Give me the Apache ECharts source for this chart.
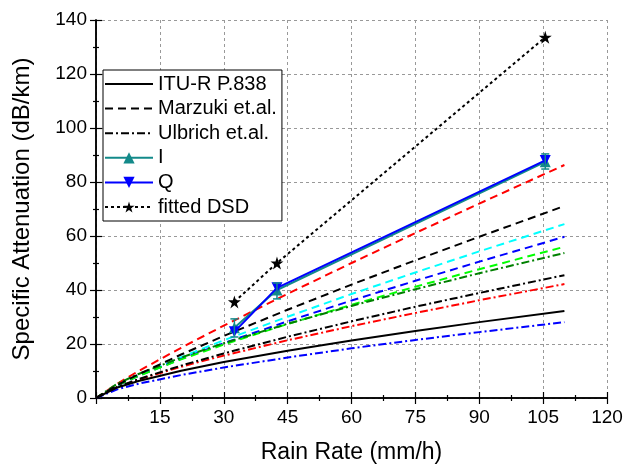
<!DOCTYPE html>
<html>
<head>
<meta charset="utf-8">
<script src="https://cdn.jsdelivr.net/npm/echarts@6/dist/echarts.min.js"></script>
<style>
  html, body { margin: 0; padding: 0; background: #fff; }
  #chart { width: 628px; height: 467px; }
</style>
</head>
<body>
<div id="chart"></div>
<script>
// rain rate samples (mm/h) for the model curves
const rain = [0, 5, 10, 20, 30, 45, 60, 75, 90, 110]

// model curves, specific attenuation (dB/km)
const ituSolid = [0, 3.9, 6.3, 10.1, 13.3, 17.5, 21.3, 24.8, 28.1, 32.2]
const marzukiBlack = [0, 4.8, 8.8, 16.1, 23.0, 32.7, 42.0, 51.0, 59.7, 71.1]
const ulbrichBlack = [0, 4.1, 7.0, 12.0, 16.5, 22.7, 28.4, 33.8, 38.9, 45.5]
const dashRed = [0, 5.3, 10.0, 18.6, 26.8, 38.6, 50.0, 61.1, 72.0, 86.3]
const dashCyan = [0, 4.7, 8.4, 15.1, 21.4, 30.1, 38.5, 46.5, 54.3, 64.4]
const dashBlue = [0, 4.6, 8.2, 14.5, 20.3, 28.4, 36.1, 43.4, 50.5, 59.7]
const dashGreen = [0, 4.7, 8.2, 14.3, 19.8, 27.4, 34.5, 41.2, 47.7, 56.0]
const dotDashGreen = [0, 5.3, 8.9, 15.0, 20.3, 27.5, 34.1, 40.3, 46.2, 53.7]
const dotDashRed = [0, 4.0, 6.8, 11.6, 15.7, 21.4, 26.6, 31.5, 36.2, 42.2]
const dotDashBlue = [0, 3.2, 5.3, 8.5, 11.3, 15.0, 18.4, 21.5, 24.4, 28.1]

// measured points
const measRain = [32.5, 42.5, 105.5]
const valI = [26, 40, 87.5]
const valQ = [24.5, 40.8, 88]
const errLow = [22.6, 36.7, 84.8]
const errHigh = [29.3, 42.6, 90.4]
const fittedDSD = [35.6, 50, 133.6]

const xTicks = [15, 30, 45, 60, 75, 90, 105, 120]

const pairs = (xs, ys) => xs.map((x, i) => [x, ys[i]])

const DASH = [8, 5]
const DASHDOT = [8, 3, 2, 3]
const DOT = [3, 3]
const STAR = 'path://M0,-100L22,-31L95,-31L36,12L59,81L0,38L-59,81L-36,12L-95,-31L-22,-31Z'
const TEAL = '#138a8a'

const curve = (name, data, color, type, width) => ({
  name,
  type: 'line',
  data: pairs(rain, data),
  symbol: 'none',
  lineStyle: { color, type, width: width || 2 },
  itemStyle: { color },
  z: 2
})

// legend entry for a plain line without a marker
const noMark = name => ({ name, itemStyle: { color: 'rgba(0,0,0,0)', borderWidth: 0, opacity: 0 } })

const chart = echarts.init(document.getElementById('chart'))

const axisFont = { fontFamily: 'Liberation Sans, Arial, sans-serif', color: '#000' }

const option = {
  animation: false,
  grid: { left: 96, right: 21, top: 20, bottom: 69, outerBoundsMode: 'none' },
  legend: {
    orient: 'vertical',
    left: 103,
    top: 70,
    padding: [4, 5, 4, 1],
    itemWidth: 48,
    itemHeight: 14,
    itemGap: 4.6,
    backgroundColor: '#fff',
    borderColor: '#000',
    borderWidth: 1,
    textStyle: { ...axisFont, fontSize: 20 },
    data: [noMark('ITU-R P.838'), noMark('Marzuki et.al.'), noMark('Ulbrich et.al.'), 'I', 'Q', 'fitted DSD']
  },
  xAxis: [
    {
      type: 'value', min: 0, max: 120, interval: 15,
      name: 'Rain Rate (mm/h)', nameLocation: 'middle', nameGap: 43,
      nameTextStyle: { ...axisFont, fontSize: 23 },
      axisLine: { lineStyle: { color: '#000', width: 1.5 } },
      axisTick: { inside: true, length: 6, lineStyle: { color: '#000', width: 1.2 } },
      minorTick: { show: true, splitNumber: 2, length: 3, lineStyle: { color: '#000', width: 1.2 } },
      axisLabel: {
        ...axisFont, fontSize: 19, margin: 10,
        formatter: v => (xTicks.includes(v) ? String(v) : '')
      },
      splitLine: { show: true, lineStyle: { color: '#999', type: [3, 3], width: 1 } }
    },
    {
      type: 'value', min: 0, max: 120, interval: 15, position: 'top',
      axisLine: { lineStyle: { color: '#000', width: 1.5 } },
      axisTick: { inside: true, length: 6, lineStyle: { color: '#000', width: 1.2 } },
      minorTick: { show: true, splitNumber: 2, length: 3, lineStyle: { color: '#000', width: 1.2 } },
      axisLabel: { show: false },
      splitLine: { show: false }
    }
  ],
  yAxis: [
    {
      type: 'value', min: 0, max: 140, interval: 20,
      name: 'Specific Attenuation (dB/km)', nameLocation: 'middle', nameGap: 62,
      nameTextStyle: { ...axisFont, fontSize: 24 },
      axisLine: { show: true, lineStyle: { color: '#000', width: 1.5 } },
      axisTick: { show: true, inside: true, length: 6, lineStyle: { color: '#000', width: 1.2 } },
      minorTick: { show: true, splitNumber: 2, length: 3, lineStyle: { color: '#000', width: 1.2 } },
      axisLabel: { ...axisFont, fontSize: 19, margin: 9 },
      splitLine: { show: true, lineStyle: { color: '#999', type: [3, 3], width: 1 } }
    },
    {
      type: 'value', min: 0, max: 140, interval: 20, position: 'right',
      axisLine: { show: true, lineStyle: { color: '#000', width: 1.5 } },
      axisTick: { show: true, inside: true, length: 6, lineStyle: { color: '#000', width: 1.2 } },
      minorTick: { show: true, splitNumber: 2, length: 3, lineStyle: { color: '#000', width: 1.2 } },
      axisLabel: { show: false },
      splitLine: { show: false }
    }
  ],
  series: [
    curve('dashRed', dashRed, '#ff0000', DASH),
    curve('dashCyan', dashCyan, '#00ffff', DASH),
    curve('dashBlue', dashBlue, '#0000ff', DASH),
    curve('dashGreen', dashGreen, '#00ff00', DASH),
    curve('dotDashGreen', dotDashGreen, '#008000', DASHDOT),
    curve('dotDashRed', dotDashRed, '#ff0000', DASHDOT),
    curve('dotDashBlue', dotDashBlue, '#0000ff', DASHDOT),
    curve('ITU-R P.838', ituSolid, '#000', 'solid'),
    curve('Marzuki et.al.', marzukiBlack, '#000', DASH),
    curve('Ulbrich et.al.', ulbrichBlack, '#000', DASHDOT),
    {
      name: 'fitted DSD',
      type: 'line',
      data: pairs(measRain, fittedDSD),
      symbol: STAR,
      symbolSize: 13,
      lineStyle: { color: '#000', type: DOT, width: 2 },
      itemStyle: { color: '#000' },
      z: 3
    },
    {
      name: 'I',
      type: 'line',
      data: pairs(measRain, valI),
      symbol: 'triangle',
      symbolSize: 11,
      lineStyle: { color: TEAL, width: 2 },
      itemStyle: { color: TEAL },
      z: 4
    },
    {
      name: 'Q',
      type: 'line',
      data: pairs(measRain, valQ),
      symbol: 'triangle',
      symbolRotate: 180,
      symbolSize: 11,
      lineStyle: { color: '#0000ff', width: 2 },
      itemStyle: { color: '#0000ff' },
      z: 5
    },
    {
      name: 'errI',
      type: 'custom',
      data: measRain.map((x, i) => [x, errLow[i], errHigh[i]]),
      encode: { x: 0, y: [1, 2] },
      z: 6,
      renderItem: (params, api) => {
        const x = api.value(0)
        const lo = api.coord([x, api.value(1)])
        const hi = api.coord([x, api.value(2)])
        const w = 4
        const style = { stroke: TEAL, lineWidth: 1.5 }
        return {
          type: 'group',
          children: [
            { type: 'line', shape: { x1: lo[0], y1: lo[1], x2: hi[0], y2: hi[1] }, style },
            { type: 'line', shape: { x1: lo[0] - w, y1: lo[1], x2: lo[0] + w, y2: lo[1] }, style },
            { type: 'line', shape: { x1: hi[0] - w, y1: hi[1], x2: hi[0] + w, y2: hi[1] }, style }
          ]
        }
      }
    }
  ]
}

chart.setOption(option)
</script>
</body>
</html>
